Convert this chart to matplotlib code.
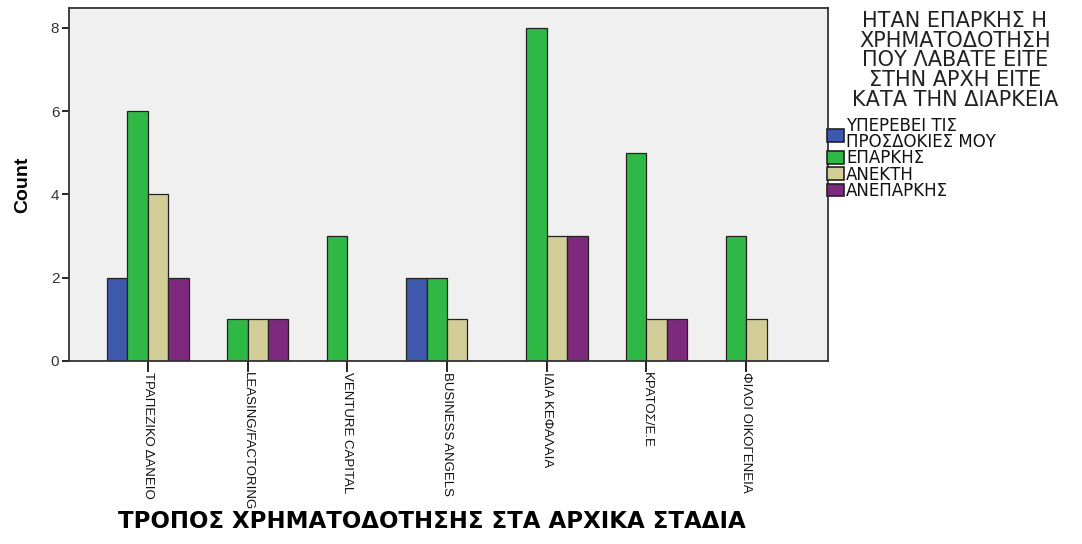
import matplotlib
matplotlib.use("Agg")
import matplotlib.pyplot as plt
import numpy as np
from matplotlib.patches import Patch

categories = ["ΤΡΑΠΕΖΙΚΟ ΔΑΝΕΙΟ", "LEASING/FACTORING", "VENTURE CAPITAL",
              "BUSINESS ANGELS", "ΙΔΙΑ ΚΕΦΑΛΑΙΑ", "ΚΡΑΤΟΣ/Ε.Ε", "ΦΙΛΟΙ ΟΙΚΟΓΕΝΕΙΑ"]
series_names = ["ΥΠΕΡΕΒΕΙ ΤΙΣ\nΠΡΟΣΔΟΚΙΕΣ ΜΟΥ", "ΕΠΑΡΚΗΣ", "ΑΝΕΚΤΗ", "ΑΝΕΠΑΡΚΗΣ"]
yperevei = [2, 0, 0, 2, 0, 0, 0]
eparkis = [6, 1, 3, 2, 8, 5, 3]
anekti = [4, 1, 0, 1, 3, 1, 1]
aneparkis = [2, 1, 0, 0, 3, 1, 0]
yticks = [0, 2, 4, 6, 8]
colors = ["#3E58AC", "#2FB846", "#D3CE97", "#7D2A7E"]

legend_title = "ΗΤΑΝ ΕΠΑΡΚΗΣ Η\nΧΡΗΜΑΤΟΔΟΤΗΣΗ\nΠΟΥ ΛΑΒΑΤΕ ΕΙΤΕ\nΣΤΗΝ ΑΡΧΗ ΕΙΤΕ\nΚΑΤΑ ΤΗΝ ΔΙΑΡΚΕΙΑ"

plt.rcParams['font.family'] = ['Liberation Sans', 'DejaVu Sans']

fig = plt.figure(figsize=(10.82, 5.44), dpi=100)
ax = fig.add_axes([69/1082, 1-361/544, (828-69)/1082, (361-8)/544])
ax.set_facecolor("#F0F0F0")

x = np.arange(len(categories))
w = 0.205
data = [yperevei, eparkis, anekti, aneparkis]
for i, (vals, c) in enumerate(zip(data, colors)):
    ax.bar(x + (i - 1.5) * w, vals, width=w, color=c, edgecolor="#222222", linewidth=0.9)

ax.set_xlim(-0.79, 6.82)
ax.set_ylim(0, 8.48)
ax.set_yticks(yticks)
ax.set_yticklabels([str(v) for v in yticks], fontsize=11, color="#333333")
ax.set_xticks(x)
ax.set_xticklabels(categories, rotation=270, fontsize=9.5, rotation_mode="anchor",
                   color="#111111")
for lbl in ax.get_xticklabels():
    lbl.set_ha("left")
    lbl.set_va("center")
ax.tick_params(axis='x', length=8, width=1.2, pad=0)
ax.tick_params(axis='y', length=5, width=1.2, pad=2)
for s in ax.spines.values():
    s.set_linewidth(1.3)
    s.set_color("#333333")

ax.set_ylabel("Count", fontsize=14, fontweight="bold", labelpad=14)
fig.text(432/1082, 1-522/544, "ΤΡΟΠΟΣ ΧΡΗΜΑΤΟΔΟΤΗΣΗΣ ΣΤΑ ΑΡΧΙΚΑ ΣΤΑΔΙΑ",
         fontsize=16.5, fontweight="bold", ha="center", va="center",
         family=['DejaVu Sans'])

fig.text(955/1082, 1-11/544, legend_title, fontsize=15, ha="center", va="top",
         multialignment="center", linespacing=0.98, family=['DejaVu Sans'],
         color="#222222")

handles = [Patch(facecolor=c, edgecolor="#222222", linewidth=1.2) for c in colors]
leg = fig.legend(handles, series_names,
                 loc="upper left", bbox_to_anchor=(827/1082, 1-117/544),
                 frameon=False, prop={'family': ['DejaVu Sans'], 'size': 12},
                 handlelength=1.0, handleheight=0.8, handletextpad=0.15,
                 labelspacing=-0.1, borderaxespad=0, borderpad=0.0)
for t in leg.get_texts():
    t.set_linespacing(0.85)
    t.set_color("#111111")

fig.savefig("out.png", dpi=100)
